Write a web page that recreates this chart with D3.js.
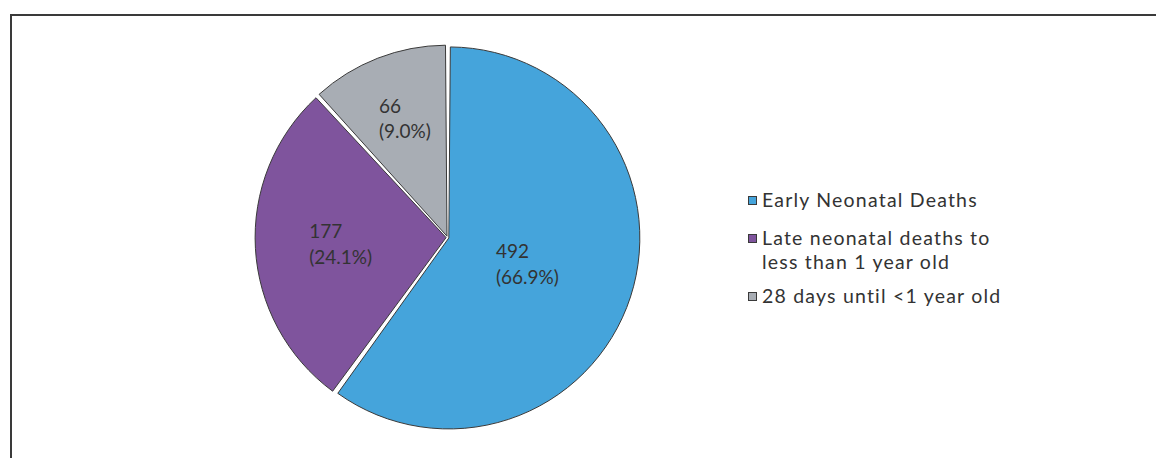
<!DOCTYPE html>
<html>
<head>
<meta charset="utf-8">
<script src="https://cdn.jsdelivr.net/npm/d3@7"></script>
<style>
  html, body { margin: 0; padding: 0; background: #fff; }
  svg { display: block; }
  text { font-family: Lato, "Open Sans", sans-serif; fill: #333; }
</style>
</head>
<body>
<svg id="chart" width="1156" height="458"></svg>
<script>
// ---- data ----
const categories = ["Early Neonatal Deaths", "Late neonatal deaths to less than 1 year old", "28 days until <1 year old"];
const legendLines = [["Early Neonatal Deaths"], ["Late neonatal deaths to", "less than 1 year old"], ["28 days until <1 year old"]];
const counts = [492, 177, 66];
const percentLabels = ["66.9%", "24.1%", "9.0%"];
// slice shares as drawn in the reference picture (angles)
const sliceShares = [60.0, 28.2, 11.8];
const colors = ["#45A4DB", "#7F549D", "#A8ADB4"];

// ---- layout ----
const W = 1156, H = 458;
const cx = 447.5, cy = 237.5, R = 191;
const labelRadiusFrac = [0.44, 0.56, 0.66];

const svg = d3.select("#chart");

// frame
svg.append("path")
  .attr("d", `M11,${H} L11,15 L${W},15`)
  .attr("fill", "none").attr("stroke", "#3a3a3a").attr("stroke-width", 2);

const pie = d3.pie().sort(null).value(d => d)(sliceShares);
const arc = d3.arc().innerRadius(0).outerRadius(R).padRadius(R).padAngle(3 / R);

const g = svg.append("g").attr("transform", `translate(${cx},${cy})`);

g.selectAll("path.slice").data(pie).join("path")
  .attr("class", "slice")
  .attr("transform", d => {
    const a = (d.startAngle + d.endAngle) / 2;
    return `translate(${1.4 * Math.sin(a)},${-1.4 * Math.cos(a)})`;
  })
  .attr("d", arc)
  .attr("fill", (d, i) => colors[i])
  .attr("stroke", "#3a3a3a").attr("stroke-width", 1);

// labels
g.selectAll("text.lbl").data(pie).join("text")
  .attr("class", "lbl")
  .attr("font-size", 19)
  .attr("text-anchor", "start")
  .each(function (d, i) {
    const a = (d.startAngle + d.endAngle) / 2;
    const r = R * labelRadiusFrac[i];
    const x = r * Math.sin(a), y = -r * Math.cos(a);
    const t = d3.select(this);
    const l1 = String(counts[i]), l2 = "(" + percentLabels[i] + ")";
    t.append("tspan").attr("x", 0).attr("dy", 0).text(l1);
    t.append("tspan").attr("x", 0).attr("dy", 25.5).text(l2);
    const bb = this.getBBox();
    t.attr("transform", `translate(${x - bb.width / 2 + (i === 2 ? 3 : 0)},${y - bb.height / 2 - bb.y - (i === 2 ? 2 : 0)})`);
  });

// legend
const legend = svg.append("g");
const legendY = [207, 245, 303];
legendLines.forEach((lines, i) => {
  const y = legendY[i];
  legend.append("rect")
    .attr("x", 748.5).attr("y", y - 10.5).attr("width", 8).attr("height", 8)
    .attr("fill", colors[i]).attr("stroke", "#3a3a3a").attr("stroke-width", 1);
  const t = legend.append("text").attr("font-size", 19.5).attr("letter-spacing", 1.2);
  lines.forEach((ln, k) => {
    t.append("tspan").attr("x", 762).attr("y", y + k * 24).text(ln);
  });
});
</script>
</body>
</html>
